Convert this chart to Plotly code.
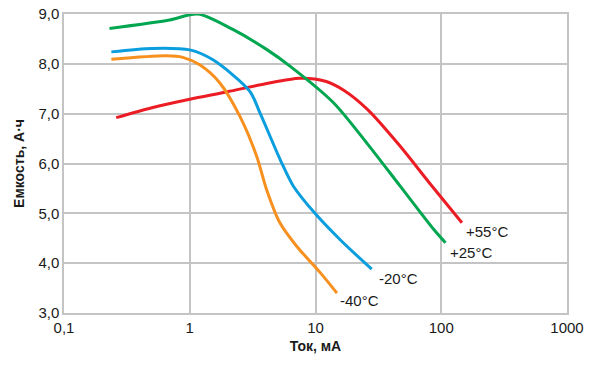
import math
import plotly.graph_objects as go

# Data (current in mA, capacity in A·h)
x_p55 = [0.26, 0.5, 1.0, 2.0, 4.0, 7.5, 12, 17, 26, 47, 80, 146]
y_p55 = [6.92, 7.12, 7.29, 7.44, 7.60, 7.71, 7.65, 7.46, 7.08, 6.35, 5.62, 4.81]

x_p25 = [0.23, 0.69, 1.16, 2.2, 4.08, 6.3, 13.9, 25.6, 47, 87, 108]
y_p25 = [8.71, 8.88, 9.00, 8.69, 8.29, 7.95, 7.22, 6.41, 5.55, 4.68, 4.41]

x_m20 = [0.238, 0.5, 1.0, 1.53, 3.0, 3.61, 5.3, 6.65, 9.9, 16, 28]
y_m20 = [8.24, 8.31, 8.28, 8.08, 7.45, 7.02, 6.05, 5.55, 5.00, 4.45, 3.88]

x_m40 = [0.238, 0.65, 0.88, 1.2, 1.73, 2.5, 3.4, 4.08, 5.21, 7.08, 10.9, 14.8]
y_m40 = [8.09, 8.16, 8.13, 7.98, 7.62, 6.95, 6.15, 5.48, 4.81, 4.34, 3.81, 3.40]

series_names = ["+55°C", "+25°C", "-20°C", "-40°C"]
series_colors = ["#ec1c24", "#00a650", "#0b9ede", "#f7901e"]
label_x = [152, 114, 31, 15]
label_y = [4.64, 4.22, 3.70, 3.25]

x_tickvals = [0.1, 1, 10, 100, 1000]
x_ticktext = ["0,1", "1", "10", "100", "1000"]
y_tickvals = [3, 4, 5, 6, 7, 8, 9]
y_ticktext = ["3,0", "4,0", "5,0", "6,0", "7,0", "8,0", "9,0"]

fig = go.Figure()
for xs, ys, name, col in zip([x_p55, x_p25, x_m20, x_m40],
                             [y_p55, y_p25, y_m20, y_m40],
                             series_names, series_colors):
    fig.add_trace(go.Scatter(x=xs, y=ys, mode="lines", name=name,
                             line=dict(color=col, width=3, shape="spline", smoothing=0.8),
                             showlegend=False))

for name, lx, ly in zip(series_names, label_x, label_y):
    fig.add_annotation(x=math.log10(lx), y=ly, xref="x", yref="y", text=name, showarrow=False,
                       xanchor="left", yanchor="middle",
                       font=dict(family="Liberation Sans, Arial, sans-serif", size=15, color="#1a1a1a"))

grid = "#c4c4c4"
fig.update_layout(
    width=595, height=368,
    margin=dict(l=64, r=28, t=14, b=55),
    paper_bgcolor="white", plot_bgcolor="white",
    font=dict(family="Liberation Sans, Arial, sans-serif", size=15, color="#1a1a1a"),
    xaxis=dict(type="log", range=[-1, 3], tickvals=x_tickvals, ticktext=x_ticktext,
               showgrid=True, gridcolor=grid, gridwidth=1.5,
               showline=True, linecolor=grid, linewidth=1.5, mirror=True,
               ticks="", zeroline=False, automargin=False, ticklabeloverflow="allow",
               title=dict(text="<b>Ток, мА</b>", font=dict(size=14), standoff=6)),
    yaxis=dict(range=[3, 9], tickvals=y_tickvals, ticktext=y_ticktext,
               showgrid=True, gridcolor=grid, gridwidth=1.5,
               showline=True, linecolor=grid, linewidth=1.5, mirror=True,
               ticks="", zeroline=False, automargin=False, ticklabeloverflow="allow",
               title=dict(text="<b>Емкость, А·ч</b>", font=dict(size=14), standoff=10)),
)

# remove the browser's default 8px body margin so the figure sits at the window's origin
fig.write_html("out.html", config={"displayModeBar": False},
               post_script="document.body.style.margin='0';")
